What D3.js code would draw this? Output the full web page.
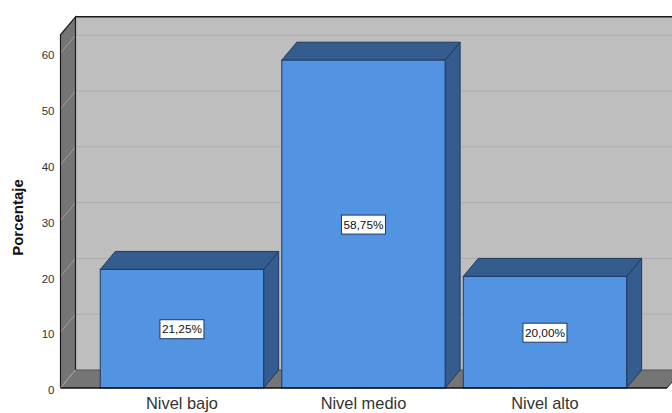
<!DOCTYPE html>
<html><head><meta charset="utf-8">
<script src="https://cdn.jsdelivr.net/npm/d3@7"></script>
<style>html,body{margin:0;padding:0;background:#fff}svg{display:block}text{font-family:"Liberation Sans",Arial,sans-serif}</style>
</head><body><div id="c"></div>
<script>
const categories = ["Nivel bajo","Nivel medio","Nivel alto"];
const values = [21.25,58.75,20.00];
const labels = ["21,25%","58,75%","20,00%"];
const yTicks = [0,10,20,30,40,50,60];

const W=672,H=413, dx=15, dy=-18, yMax=63.3;
const svg=d3.select("#c").append("svg").attr("width",W).attr("height",H);
const y=d3.scaleLinear().domain([0,yMax]).range([388,34.8]);
const x=d3.scaleBand().domain(categories).range([91.2,635.7]).paddingInner(0.1).paddingOuter(0.05);
const xL=60.5,xR=667;
const line=d3.line();
const dark="#1c1c1c";

// walls
svg.append("rect").attr("x",xL+dx).attr("y",y(yMax)+dy).attr("width",W-xL-dx+20).attr("height",y(0)-y(yMax)).attr("fill","#bebebe");
svg.append("path").attr("d",line([[xL,y(0)],[xL,y(yMax)],[xL+dx,y(yMax)+dy],[xL+dx,y(0)+dy]])+"Z").attr("fill","#757575");
svg.append("path").attr("d",line([[xL,y(0)],[xL+dx,y(0)+dy],[xR+dx,y(0)+dy],[xR,y(0)]])+"Z").attr("fill","#757575");

// grid
yTicks.filter(d=>d>0).forEach(d=>{
  svg.append("line").attr("x1",xL+dx).attr("x2",W).attr("y1",y(d)+dy).attr("y2",y(d)+dy).attr("stroke","#adadad").attr("stroke-width",1);
});
yTicks.forEach(d=>{
  svg.append("line").attr("x1",xL).attr("x2",xL+dx).attr("y1",y(d)).attr("y2",y(d)+dy).attr("stroke","#a0a0a0").attr("stroke-width",1);
});
// wall borders
svg.append("path").attr("d",line([[xL,y(0)],[xL,y(yMax)],[xL+dx,y(yMax)+dy],[xL+dx,y(0)+dy]])).attr("fill","none").attr("stroke",dark).attr("stroke-width",1.2);
svg.append("path").attr("d",line([[xL+dx,y(yMax)+dy],[W,y(yMax)+dy]])).attr("fill","none").attr("stroke",dark).attr("stroke-width",1.4);
svg.append("line").attr("x1",xL+dx).attr("x2",W).attr("y1",y(0)+dy).attr("y2",y(0)+dy).attr("stroke","#555");
svg.append("line").attr("x1",xL).attr("x2",xL+dx).attr("y1",y(0)).attr("y2",y(0)+dy).attr("stroke","#a0a0a0");
svg.append("line").attr("x1",xR).attr("x2",xR+dx).attr("y1",y(0)).attr("y2",y(0)+dy).attr("stroke",dark);

// bars
categories.forEach((c,i)=>{
  const x0=x(c),x1=x0+x.bandwidth(),t=y(values[i]),b=y(0);
  const g=svg.append("g");
  g.append("path").attr("d",line([[x1,b],[x1,t],[x1+dx,t+dy],[x1+dx,b+dy]])+"Z").attr("fill","#355c8f").attr("stroke","#1f3a5f").attr("stroke-width",1);
  g.append("path").attr("d",line([[x0,t],[x0+dx,t+dy],[x1+dx,t+dy],[x1,t]])+"Z").attr("fill","#355c8f").attr("stroke","#1f3a5f").attr("stroke-width",1);
  g.append("rect").attr("x",x0).attr("y",t).attr("width",x.bandwidth()).attr("height",b-t).attr("fill","#5294e2").attr("stroke","#1f3a5f").attr("stroke-width",1);
  const cx=x0+x.bandwidth()/2, cy=(t+b)/2+0.5;
  g.append("rect").attr("x",cx-22).attr("y",cy-9.5).attr("width",44).attr("height",19).attr("fill","#fff").attr("stroke","#1f3a5f").attr("stroke-width",1);
  g.append("text").attr("x",cx).attr("y",cy+4).attr("text-anchor","middle").attr("font-size",11.8).attr("fill","#111").text(labels[i]);
});

// baseline
svg.append("line").attr("x1",xL).attr("x2",xR).attr("y1",y(0)).attr("y2",y(0)).attr("stroke","#111").attr("stroke-width",1.4);

// y axis labels (via d3 axis)
const ax=svg.append("g").attr("transform",`translate(${xL},0)`).call(d3.axisLeft(y).tickValues(yTicks).tickSize(0).tickPadding(6));
ax.select(".domain").remove();
ax.selectAll("text").attr("font-size",11.5).attr("fill","#333").style("font-family",'"Liberation Sans",Arial,sans-serif').attr("dy","0.62em").attr("y",-1.5);

// x axis
const axb=svg.append("g").attr("transform",`translate(0,${y(0)})`).call(d3.axisBottom(x).tickSize(0).tickPadding(9.5));
axb.select(".domain").remove();
axb.selectAll("text").attr("font-size",16.4).attr("fill","#333").style("font-family",'"Liberation Sans",Arial,sans-serif');

svg.append("text").attr("transform","translate(23,217.5) rotate(-90)").attr("text-anchor","middle").attr("font-size",15).attr("font-weight","bold").attr("fill","#111").text("Porcentaje");
</script></body></html>
